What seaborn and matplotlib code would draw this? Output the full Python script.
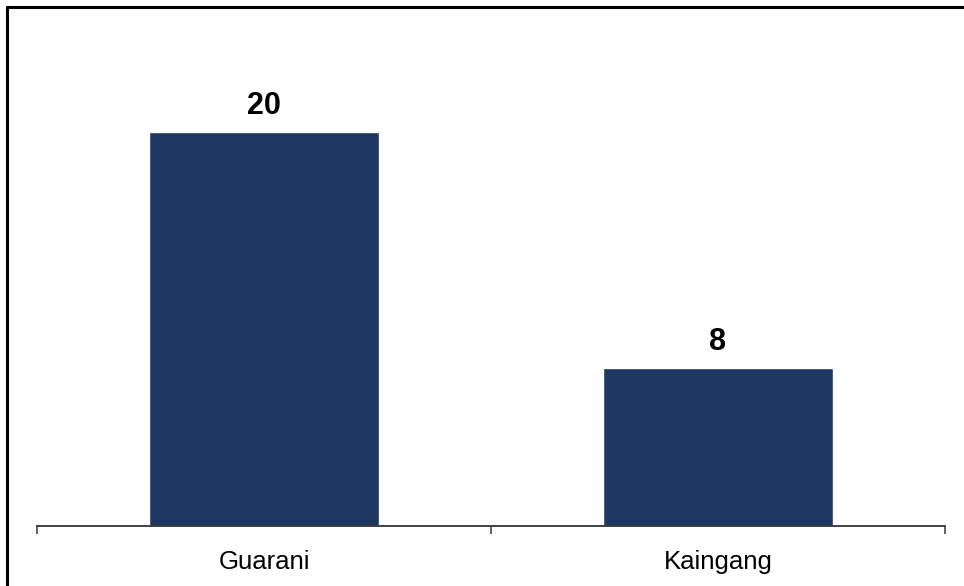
import matplotlib
matplotlib.use("Agg")
import matplotlib.pyplot as plt
import seaborn as sns
import pandas as pd
from matplotlib.lines import Line2D

categories = ["Guarani", "Kaingang"]
values = [20, 8]
bar_color = "#1F3763"

sns.set_theme(style="white")
plt.rcParams['font.family'] = ['Liberation Sans', 'DejaVu Sans']

df = pd.DataFrame({"cat": categories, "val": values})

fig = plt.figure(figsize=(9.64, 5.86), dpi=100)
ymax = 24
px_per_unit = 19.7
H = 586.0
bottom_px = 526
ax_h_px = ymax * px_per_unit
ax = fig.add_axes([37/964, 1 - bottom_px/H, (945-37)/964, ax_h_px/H])

sns.barplot(data=df, x="cat", y="val", color=bar_color, width=0.505, saturation=1, ax=ax)

ax.set_xlim(-0.5, 1.5)
ax.set_ylim(0, ymax)
ax.set_xlabel("")
ax.set_ylabel("")
ax.set_yticks([])
for s in ["top", "right", "left"]:
    ax.spines[s].set_visible(False)
ax.spines["bottom"].set_color("#333333")
ax.spines["bottom"].set_linewidth(1.3)

ax.set_xticks([0, 1])
ax.set_xticklabels(categories, fontsize=18.5, color="black")
ax.tick_params(axis="x", which="major", length=0, pad=17)
ax.set_xticks([-0.5, 0.5, 1.5], minor=True)
ax.tick_params(axis="x", which="minor", length=6, width=1.3, color="#555555", bottom=True)

for i, v in enumerate(values):
    ax.annotate(str(v), (i, v), xytext=(0, 8), textcoords="offset points",
                ha="center", va="bottom", fontsize=22, fontweight="bold", color="black")

# figure border (top and left edge)
fig.add_artist(Line2D([7/964, 7/964], [0, 1 - 7/H], transform=fig.transFigure, color="black", linewidth=2.2))
fig.add_artist(Line2D([7/964, 1], [1 - 7/H, 1 - 7/H], transform=fig.transFigure, color="black", linewidth=2.2))

fig.savefig("out.png", dpi=100)
